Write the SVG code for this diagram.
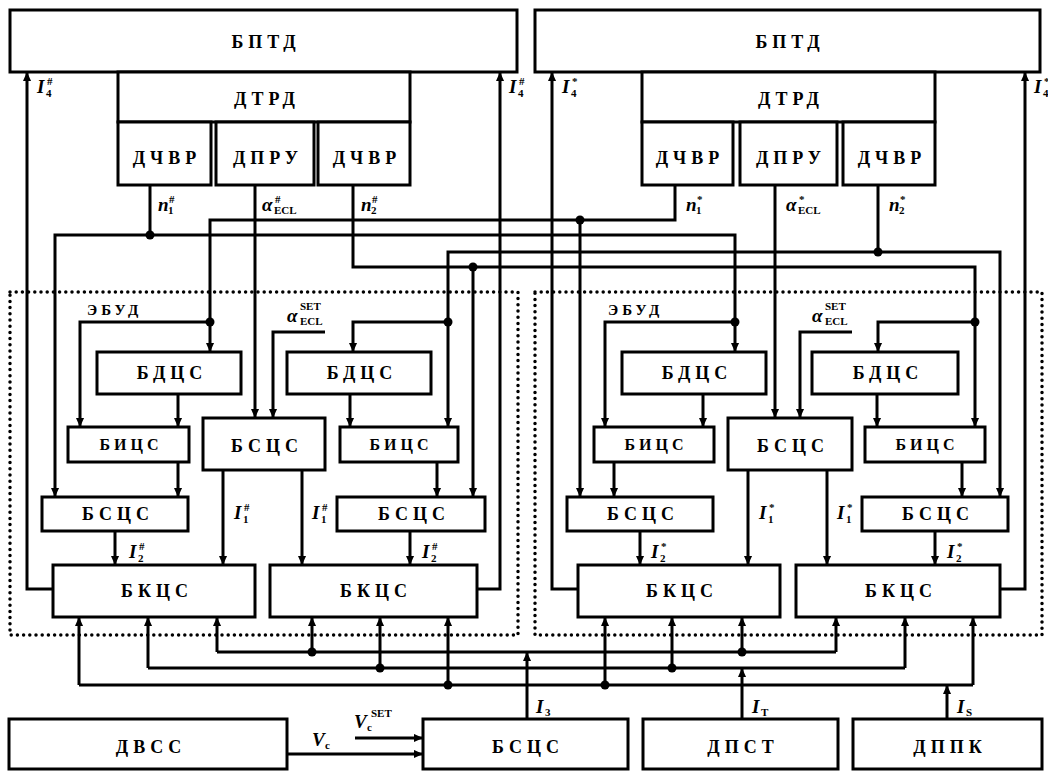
<svg xmlns="http://www.w3.org/2000/svg" width="1048" height="773" viewBox="0 0 1048 773">
<defs>
<marker id="a" viewBox="0 0 10 10" refX="10" refY="5" markerWidth="10" markerHeight="9" markerUnits="userSpaceOnUse" orient="auto"><path d="M0,0.5 L10,5 L0,9.5z" fill="#000"/></marker>
<style>
.b{fill:#fff;stroke:#000;stroke-width:3}
.t{font-family:"Liberation Serif",serif;font-weight:bold;font-size:18px;letter-spacing:5px;text-anchor:middle;fill:#000}
.ts{font-size:16px;letter-spacing:4px}
.w{fill:none;stroke:#000;stroke-width:3}
.ar{marker-end:url(#a)}
.d{fill:none;stroke:#000;stroke-width:3.5;stroke-dasharray:0 6.2;stroke-linecap:round}
.m{font-family:"Liberation Serif",serif;font-style:italic;font-weight:bold;font-size:19px;fill:#000}
.s{font-family:"Liberation Serif",serif;font-weight:bold;font-size:11px;fill:#000}
.e{font-family:"Liberation Serif",serif;font-weight:bold;font-size:15px;letter-spacing:4px;fill:#000}
</style>
</defs>
<rect width="1048" height="773" fill="#fff"/>

<g id="ebud-frames">
<path class="d" d="M10,292 H518 V635 H10 Z"/>
<path class="d" d="M535,292 H1042 V635 H535 Z"/>
<text class="e" x="87" y="315">ЭБУД</text>
<text class="e" x="608" y="315">ЭБУД</text>
</g>

<g id="connectors">
<path class="w ar" d="M53,589 H27 V72"/>
<path class="w ar" d="M477,589 H500 V72"/>
<path class="w ar" d="M578,589 H552 V72"/>
<path class="w ar" d="M1000,589 H1025 V72"/>

<path class="w" d="M150,185 V235"/>
<path class="w ar" d="M150,235 H55 V497"/>
<path class="w ar" d="M150,235 H735 V352"/>
<path class="w ar" d="M735,322 H605 V427"/>

<path class="w ar" d="M675,185 V220 H210 V352"/>
<path class="w ar" d="M580,220 V497"/>
<path class="w ar" d="M210,322 H80 V427"/>

<path class="w ar" d="M353,185 V267 H975 V427"/>
<path class="w ar" d="M473,267 V497"/>
<path class="w ar" d="M975,322 H878 V352"/>

<path class="w" d="M878,185 V252"/>
<path class="w ar" d="M878,252 H448 V427"/>
<path class="w ar" d="M878,252 H1000 V497"/>
<path class="w ar" d="M448,322 H353 V352"/>

<path class="w ar" d="M255,185 V418"/>
<path class="w ar" d="M775,185 V418"/>
<path class="w ar" d="M325,332 H273 V418"/>
<path class="w ar" d="M852,332 H800 V418"/>

<path class="w ar" d="M178,394 V427"/>
<path class="w ar" d="M350,394 V427"/>
<path class="w ar" d="M703,394 V427"/>
<path class="w ar" d="M877,394 V427"/>

<path class="w ar" d="M178,462 V497"/>
<path class="w ar" d="M437,462 V497"/>
<path class="w ar" d="M614,462 V497"/>
<path class="w ar" d="M962,462 V497"/>

<path class="w ar" d="M115,531 V565"/>
<path class="w ar" d="M410,531 V565"/>
<path class="w ar" d="M640,531 V565"/>
<path class="w ar" d="M935,531 V565"/>

<path class="w ar" d="M223,470 V565"/>
<path class="w ar" d="M302,470 V565"/>
<path class="w ar" d="M748,470 V565"/>
<path class="w ar" d="M827,470 V565"/>

<path class="w" d="M217,652 H836"/>
<path class="w ar" d="M217,652 V617"/>
<path class="w ar" d="M312,652 V617"/>
<path class="w ar" d="M742,652 V617"/>
<path class="w ar" d="M836,652 V617"/>
<path class="w ar" d="M527,719 V652"/>

<path class="w" d="M148,668 H905"/>
<path class="w ar" d="M148,668 V617"/>
<path class="w ar" d="M380,668 V617"/>
<path class="w ar" d="M672,668 V617"/>
<path class="w ar" d="M905,668 V617"/>
<path class="w ar" d="M742,719 V668"/>

<path class="w" d="M79,685 H973"/>
<path class="w ar" d="M79,685 V617"/>
<path class="w ar" d="M448,685 V617"/>
<path class="w ar" d="M605,685 V617"/>
<path class="w ar" d="M973,685 V617"/>
<path class="w ar" d="M947,719 V685"/>

<path class="w ar" d="M287,754 H423"/>
<path class="w ar" d="M355,738 H423"/>

<g fill="#000">
<circle cx="150" cy="235" r="4.5"/>
<circle cx="735" cy="322" r="4.5"/>
<circle cx="580" cy="220" r="4.5"/>
<circle cx="210" cy="322" r="4.5"/>
<circle cx="473" cy="267" r="4.5"/>
<circle cx="975" cy="322" r="4.5"/>
<circle cx="878" cy="252" r="4.5"/>
<circle cx="448" cy="322" r="4.5"/>
<circle cx="312" cy="652" r="4.5"/>
<circle cx="742" cy="652" r="4.5"/>
<circle cx="380" cy="668" r="4.5"/>
<circle cx="672" cy="668" r="4.5"/>
<circle cx="448" cy="685" r="4.5"/>
<circle cx="605" cy="685" r="4.5"/>
</g>

<g id="signal-labels">
<text class="m" x="37" y="93">I</text><text class="s" x="46" y="97">4</text><text class="s" x="47" y="85">#</text>
<text class="m" x="509" y="93">I</text><text class="s" x="518" y="97">4</text><text class="s" x="519" y="85">#</text>
<text class="m" x="562" y="93">I</text><text class="s" x="571" y="97">4</text><text class="s" x="572" y="85">*</text>
<text class="m" x="1034" y="93">I</text><text class="s" x="1043" y="97">4</text><text class="s" x="1044" y="85">*</text>

<text class="m" x="158" y="211">n</text><text class="s" x="168" y="214">1</text><text class="s" x="169" y="203">#</text>
<text class="m" x="262" y="211">α</text><text class="s" x="274" y="214">ECL</text><text class="s" x="275" y="203">#</text>
<text class="m" x="361" y="211">n</text><text class="s" x="371" y="214">2</text><text class="s" x="372" y="203">#</text>
<text class="m" x="686" y="211">n</text><text class="s" x="696" y="214">1</text><text class="s" x="697" y="203">*</text>
<text class="m" x="786" y="211">α</text><text class="s" x="798" y="214">ECL</text><text class="s" x="799" y="203">*</text>
<text class="m" x="889" y="211">n</text><text class="s" x="899" y="214">2</text><text class="s" x="900" y="203">*</text>

<text class="m" x="287" y="322">α</text><text class="s" x="300" y="310">SET</text><text class="s" x="300" y="325">ECL</text>
<text class="m" x="812" y="322">α</text><text class="s" x="825" y="310">SET</text><text class="s" x="825" y="325">ECL</text>

<text class="m" x="234" y="519">I</text><text class="s" x="243" y="523">1</text><text class="s" x="244" y="511">#</text>
<text class="m" x="312" y="519">I</text><text class="s" x="321" y="523">1</text><text class="s" x="322" y="511">#</text>
<text class="m" x="759" y="519">I</text><text class="s" x="768" y="523">1</text><text class="s" x="769" y="511">*</text>
<text class="m" x="837" y="519">I</text><text class="s" x="846" y="523">1</text><text class="s" x="847" y="511">*</text>

<text class="m" x="129" y="558">I</text><text class="s" x="138" y="562">2</text><text class="s" x="139" y="550">#</text>
<text class="m" x="422" y="558">I</text><text class="s" x="431" y="562">2</text><text class="s" x="432" y="550">#</text>
<text class="m" x="651" y="558">I</text><text class="s" x="660" y="562">2</text><text class="s" x="661" y="550">*</text>
<text class="m" x="947" y="558">I</text><text class="s" x="956" y="562">2</text><text class="s" x="957" y="550">*</text>

<text class="m" x="536" y="713">I</text><text class="s" x="545" y="716">3</text>
<text class="m" x="752" y="713">I</text><text class="s" x="761" y="716">T</text>
<text class="m" x="957" y="713">I</text><text class="s" x="966" y="716">S</text>

<text class="m" x="312" y="746">V</text><text class="s" x="325" y="749">c</text>
<text class="m" x="354" y="728">V</text><text class="s" x="367" y="731">c</text><text class="s" x="371" y="717">SET</text>
</g>
</g>

<g id="bptd-left"><rect class="b" x="10" y="10" width="507" height="62"/><text class="t" x="266" y="48">БПТД</text></g>
<g id="bptd-right"><rect class="b" x="535" y="10" width="505" height="62"/><text class="t" x="790" y="48">БПТД</text></g>
<g id="dtrd-left"><rect class="b" x="118" y="72" width="292" height="50"/><text class="t" x="267" y="105">ДТРД</text></g>
<g id="dchvr-l1"><rect class="b" x="118" y="122" width="93" height="63"/><text class="t" x="167" y="164">ДЧВР</text></g>
<g id="dpru-l"><rect class="b" x="216" y="122" width="98" height="63"/><text class="t" x="268" y="164">ДПРУ</text></g>
<g id="dchvr-l2"><rect class="b" x="318" y="122" width="92" height="63"/><text class="t" x="367" y="164">ДЧВР</text></g>
<g id="dtrd-right"><rect class="b" x="642" y="72" width="293" height="50"/><text class="t" x="791" y="105">ДТРД</text></g>
<g id="dchvr-r1"><rect class="b" x="642" y="122" width="91" height="63"/><text class="t" x="690" y="164">ДЧВР</text></g>
<g id="dpru-r"><rect class="b" x="740" y="122" width="97" height="63"/><text class="t" x="791" y="164">ДПРУ</text></g>
<g id="dchvr-r2"><rect class="b" x="843" y="122" width="92" height="63"/><text class="t" x="892" y="164">ДЧВР</text></g>

<g id="bdcs-l1"><rect class="b" x="97" y="352" width="144" height="42"/><text class="t" x="172" y="379">БДЦС</text></g>
<g id="bdcs-l2"><rect class="b" x="287" y="352" width="144" height="42"/><text class="t" x="362" y="379">БДЦС</text></g>
<g id="bdcs-r1"><rect class="b" x="622" y="352" width="144" height="42"/><text class="t" x="697" y="379">БДЦС</text></g>
<g id="bdcs-r2"><rect class="b" x="812" y="352" width="146" height="42"/><text class="t" x="888" y="379">БДЦС</text></g>

<g id="bics-l1"><rect class="b" x="68" y="427" width="121" height="35"/><text class="t ts" x="131" y="450">БИЦС</text></g>
<g id="bics-l2"><rect class="b" x="340" y="427" width="118" height="35"/><text class="t ts" x="401" y="450">БИЦС</text></g>
<g id="bics-r1"><rect class="b" x="594" y="427" width="120" height="35"/><text class="t ts" x="656" y="450">БИЦС</text></g>
<g id="bics-r2"><rect class="b" x="865" y="427" width="120" height="35"/><text class="t ts" x="927" y="450">БИЦС</text></g>

<g id="bscs-lm"><rect class="b" x="203" y="418" width="122" height="52"/><text class="t" x="267" y="452">БСЦС</text></g>
<g id="bscs-rm"><rect class="b" x="728" y="418" width="124" height="52"/><text class="t" x="793" y="452">БСЦС</text></g>

<g id="bscs-l1"><rect class="b" x="42" y="497" width="146" height="34"/><text class="t" x="118" y="520">БСЦС</text></g>
<g id="bscs-l2"><rect class="b" x="337" y="497" width="148" height="34"/><text class="t" x="414" y="520">БСЦС</text></g>
<g id="bscs-r1"><rect class="b" x="567" y="497" width="146" height="34"/><text class="t" x="643" y="520">БСЦС</text></g>
<g id="bscs-r2"><rect class="b" x="862" y="497" width="146" height="34"/><text class="t" x="938" y="520">БСЦС</text></g>

<g id="bkcs-l1"><rect class="b" x="53" y="565" width="202" height="52"/><text class="t" x="157" y="597">БКЦС</text></g>
<g id="bkcs-l2"><rect class="b" x="270" y="565" width="207" height="52"/><text class="t" x="376" y="597">БКЦС</text></g>
<g id="bkcs-r1"><rect class="b" x="578" y="565" width="202" height="52"/><text class="t" x="682" y="597">БКЦС</text></g>
<g id="bkcs-r2"><rect class="b" x="796" y="565" width="204" height="52"/><text class="t" x="901" y="597">БКЦС</text></g>

<g id="dvss"><rect class="b" x="9" y="719" width="278" height="50"/><text class="t" x="151" y="753">ДВСС</text></g>
<g id="bscs-main"><rect class="b" x="423" y="719" width="205" height="50"/><text class="t" x="528" y="753">БСЦС</text></g>
<g id="dpst"><rect class="b" x="643" y="719" width="195" height="50"/><text class="t" x="743" y="753">ДПСТ</text></g>
<g id="dppk"><rect class="b" x="853" y="719" width="189" height="50"/><text class="t" x="950" y="753">ДППК</text></g>
</svg>
